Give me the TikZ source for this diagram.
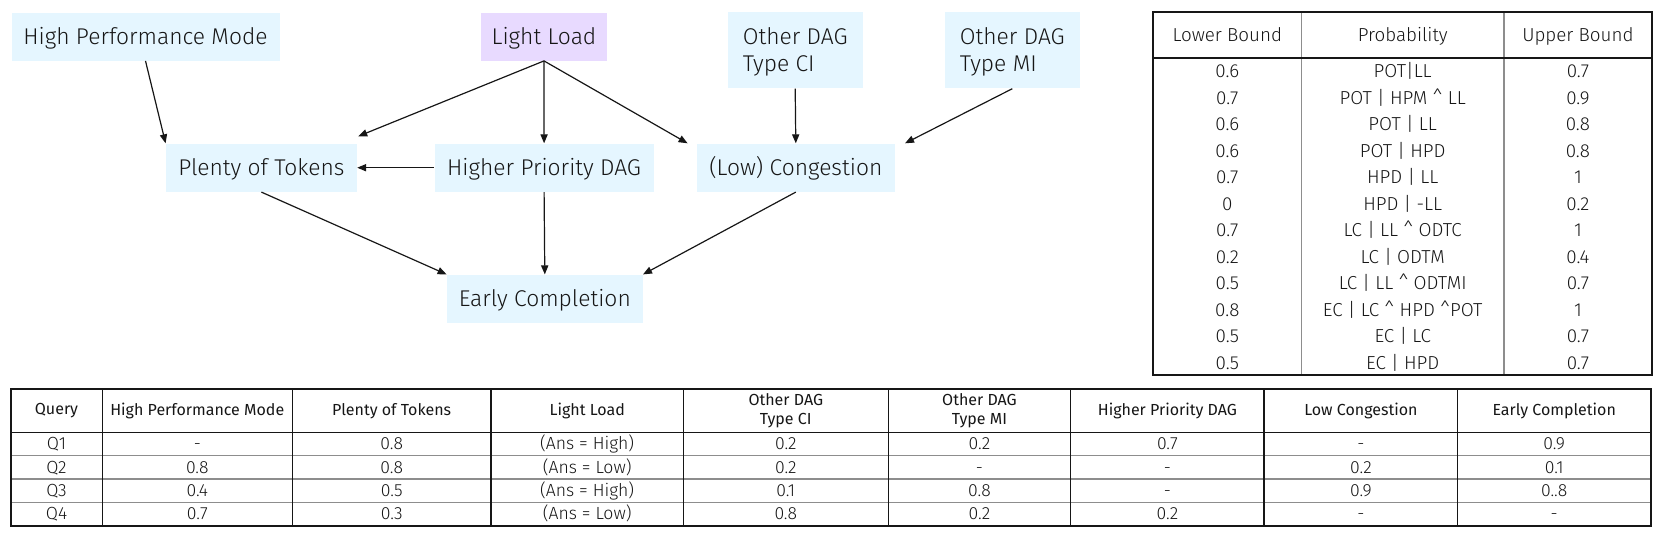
\documentclass[tikz,border=0pt]{standalone}
\usepackage{fontspec}
\setmainfont{Fira Sans Light}
\newfontfamily\headfont{Fira Sans}
\usetikzlibrary{arrows.meta}

\definecolor{boxblue}{HTML}{E5F6FF}
\definecolor{loadpurple}{HTML}{E8DAFF}
\definecolor{ink}{HTML}{161616}
\definecolor{rulegray}{HTML}{8D8D8D}

\tikzset{
  dagbox/.style={fill=boxblue, text=ink, inner sep=0pt, minimum height=24pt,
    font=\fontsize{11.4}{13.8}\selectfont, text height=7.8pt, text depth=0pt},
  dagarrow/.style={-{Triangle[length=4.5pt,width=3.6pt]}, line width=0.6pt, draw=ink},
  tcell/.style={inner sep=0pt, text=ink, font=\fontsize{9.4}{10}\selectfont,
    text height=6.5pt, text depth=0pt},
  qcell/.style={inner sep=0pt, text=ink, font=\fontsize{8.8}{9}\selectfont,
    text height=6.1pt, text depth=0pt},
  qhead/.style={inner sep=0pt, text=ink, font=\headfont\fontsize{8}{9.35}\selectfont, align=center},
  outerrule/.style={draw=ink, line width=1pt},
  innerrule/.style={draw=rulegray, line width=0.6pt}
}

\begin{document}
\begin{tikzpicture}[x=0.5pt,y=-0.5pt]
\useasboundingbox (0,0) rectangle (1661,537);

% the DAG
\node[dagbox, minimum width=134pt] (hpm) at (145.5,36.5) {High Performance Mode};
\node[dagbox, fill=loadpurple, minimum width=63pt] (ll) at (544,36.5) {Light Load};
\node[dagbox, minimum width=67.7pt, minimum height=38pt, align=left, text height=21.6pt] (odci) at (795.2,50.3) {Other DAG\\Type CI};
\node[dagbox, minimum width=67.7pt, minimum height=38pt, align=left, text height=21.6pt] (odmi) at (1012.3,50.3) {Other DAG\\Type MI};
\node[dagbox, minimum width=95.4pt] (pot) at (261.4,167.7) {Plenty of Tokens};
\node[dagbox, minimum width=109.5pt] (hpd) at (544.1,167.7) {Higher Priority DAG};
\node[dagbox, minimum width=98.8pt] (lc) at (795.8,167.7) {(Low) Congestion};
\node[dagbox, minimum width=97.8pt] (ec) at (544.8,298.8) {Early Completion};

\draw[dagarrow] (hpm.south) -- (pot.north west);
\draw[dagarrow] (ll.south) -- ([shift={(1,-7)}]pot.north east);
\draw[dagarrow] (ll.south) -- (hpd.north);
\draw[dagarrow] (ll.south) -- ([xshift=-4.5pt]lc.north west);
\draw[dagarrow] (hpd.west) -- (pot.east);
\draw[dagarrow] (odci.south) -- (lc.north);
\draw[dagarrow] (odmi.south) -- ([xshift=5pt]lc.north east);
\draw[dagarrow] (pot.south) -- (ec.north west);
\draw[dagarrow] (hpd.south) -- (ec.north);
\draw[dagarrow] (lc.south) -- (ec.north east);

% bounds table
\draw[innerrule] (1301.3,12.3) -- (1301.3,375) (1504,12.3) -- (1504,375);
\draw[outerrule] (1153.3,58) -- (1651.7,58);
\draw[outerrule] (1153.3,12.3) rectangle (1651.7,375);
\node[tcell] (lbh) at (1227.3,35) {Lower Bound};
\node[tcell] (prh) at (1402.7,35) {Probability};
\node[tcell] (ubh) at (1577.9,35) {Upper Bound};
\foreach \lo/\pr/\up [count=\i] in {0.6/POT|LL/0.7,
    0.7/POT | HPM \textasciicircum{} LL/0.9,
    0.6/POT | LL/0.8,
    0.6/POT | HPD/0.8,
    0.7/HPD | LL/1,
    0/HPD | -LL/0.2,
    0.7/LC | LL \textasciicircum{} ODTC/1,
    0.2/LC | ODTM/0.4,
    0.5/LC | LL \textasciicircum{} ODTMI/0.7,
    0.8/EC | LC \textasciicircum{} HPD \textasciicircum{}POT/1,
    0.5/EC | LC/0.7,
    0.5/EC | HPD/0.7}{
  \node[tcell] (lb\i) at (1227.3,{44.5+26.5*\i}) {\lo};
  \node[tcell] (pr\i) at (1402.7,{44.5+26.5*\i}) {\pr};
  \node[tcell] (ub\i) at (1577.9,{44.5+26.5*\i}) {\up};
}

% query table
\foreach \y in {455.7,479,502.3}
  \draw[innerrule] (10.7,\y) -- (1650.7,\y);
\foreach \x in {102.3,292.3,491,683.3,888.3,1070.7,1264,1457.7}
  \draw[draw=ink, line width=0.7pt] (\x,389.3) -- (\x,525.7);
\draw[draw=ink, line width=0.8pt] (10.7,432.3) -- (1650.7,432.3);
\draw[outerrule] (10.7,389.3) rectangle (1650.7,525.7);
\node[qhead] (qh1) at (56.5,410.8) {Query};
\node[qhead] (qh2) at (197.3,410.8) {High Performance Mode};
\node[qhead] (qh3) at (391.7,410.8) {Plenty of Tokens};
\node[qhead] (qh4) at (587.2,410.8) {Light Load};
\node[qhead] (qh5) at (785.8,410.8) {Other DAG\\Type CI};
\node[qhead] (qh6) at (979.5,410.8) {Other DAG\\Type MI};
\node[qhead] (qh7) at (1167.4,410.8) {Higher Priority DAG};
\node[qhead] (qh8) at (1360.9,410.8) {Low Congestion};
\node[qhead] (qh9) at (1554.2,410.8) {Early Completion};
\foreach \q/\hp/\pt/\ld/\ci/\mi/\hd/\lw/\ec [count=\i] in {
    Q1/-/0.8/(Ans = High)/0.2/0.2/0.7/-/0.9,
    Q2/0.8/0.8/(Ans = Low)/0.2/-/-/0.2/0.1,
    Q3/0.4/0.5/(Ans = High)/0.1/0.8/-/0.9/0..8,
    Q4/0.7/0.3/(Ans = Low)/0.8/0.2/0.2/-/-}{
  \node[qcell] (q\i a) at (56.5,{420.3+23.35*\i}) {\q};
  \node[qcell] (q\i b) at (197.3,{420.3+23.35*\i}) {\hp};
  \node[qcell] (q\i c) at (391.7,{420.3+23.35*\i}) {\pt};
  \node[qcell] (q\i d) at (587.2,{420.3+23.35*\i}) {\ld};
  \node[qcell] (q\i e) at (785.8,{420.3+23.35*\i}) {\ci};
  \node[qcell] (q\i f) at (979.5,{420.3+23.35*\i}) {\mi};
  \node[qcell] (q\i g) at (1167.4,{420.3+23.35*\i}) {\hd};
  \node[qcell] (q\i h) at (1360.9,{420.3+23.35*\i}) {\lw};
  \node[qcell] (q\i i) at (1554.2,{420.3+23.35*\i}) {\ec};
}
\end{tikzpicture}
\end{document}
